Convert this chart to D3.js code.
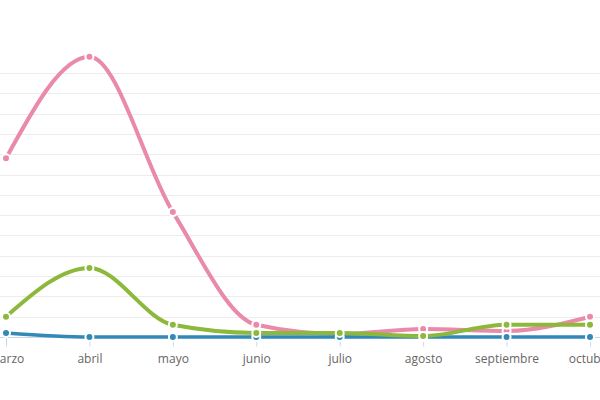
<!DOCTYPE html>
<html>
<head>
<meta charset="utf-8">
<script src="https://cdn.jsdelivr.net/npm/d3@7"></script>
<style>
  html, body { margin: 0; padding: 0; background: #fff; }
  svg { display: block; }
</style>
</head>
<body>
<svg id="chart" width="600" height="400"></svg>
<script>
const months = ["marzo", "abril", "mayo", "junio", "julio", "agosto", "septiembre", "octubre"];
const pinkValues  = [88, 138, 61.5, 6, 1.5, 4, 3, 10];
const greenValues = [10, 34, 6, 2, 2, 0.5, 6, 6];
const blueValues  = [2, 0, 0, 0, 0, 0, 0, 0];
const yTicks = [0, 10, 20, 30, 40, 50, 60, 70, 80, 90, 100, 110, 120, 130];

const series = [
  { name: "rosa", values: pinkValues, color: "#ea8aab", width: 4 },
  { name: "azul", values: blueValues, color: "#3289b8", width: 3.5 },
  { name: "verde", values: greenValues, color: "#8cb83c", width: 4 }
];

const svg = d3.select("#chart");
const x = d3.scalePoint().domain(months).range([6, 590]);
const y = d3.scaleLinear().domain([0, 130]).range([337, 73]);

// grid lines
svg.append("g")
  .selectAll("line")
  .data(yTicks)
  .join("line")
  .attr("x1", 0).attr("x2", 600)
  .attr("y1", d => Math.round(y(d)) + 0.5)
  .attr("y2", d => Math.round(y(d)) + 0.5)
  .attr("stroke", "#ececec")
  .attr("stroke-width", 1);

// x axis
const xAxis = d3.axisBottom(x).tickSize(9).tickPadding(8);
const gx = svg.append("g")
  .attr("transform", `translate(0,${Math.round(y(0)) + 0.5})`)
  .call(xAxis);
gx.select(".domain").attr("stroke", "#ccd6eb").attr("d", "M0,0H600");
gx.selectAll(".tick line").attr("stroke", "#ccd6eb");
gx.selectAll(".tick text")
  .attr("fill", "#666666")
  .style("font-family", "'Open Sans', sans-serif")
  .style("font-size", "12px");

const line = d3.line()
  .x((d, i) => x(months[i]))
  .y(d => y(d))
  .curve(d3.curveMonotoneX);

series.forEach(s => {
  const g = svg.append("g");
  g.append("path")
    .datum(s.values)
    .attr("d", line)
    .attr("fill", "none")
    .attr("stroke", s.color)
    .attr("stroke-width", s.width)
    .attr("stroke-linejoin", "round")
    .attr("stroke-linecap", "round");
  g.selectAll("circle")
    .data(s.values)
    .join("circle")
    .attr("cx", (d, i) => x(months[i]))
    .attr("cy", d => y(d))
    .attr("r", 4)
    .attr("fill", s.color)
    .attr("stroke", "#ffffff")
    .attr("stroke-width", 2);
});
</script>
</body>
</html>
